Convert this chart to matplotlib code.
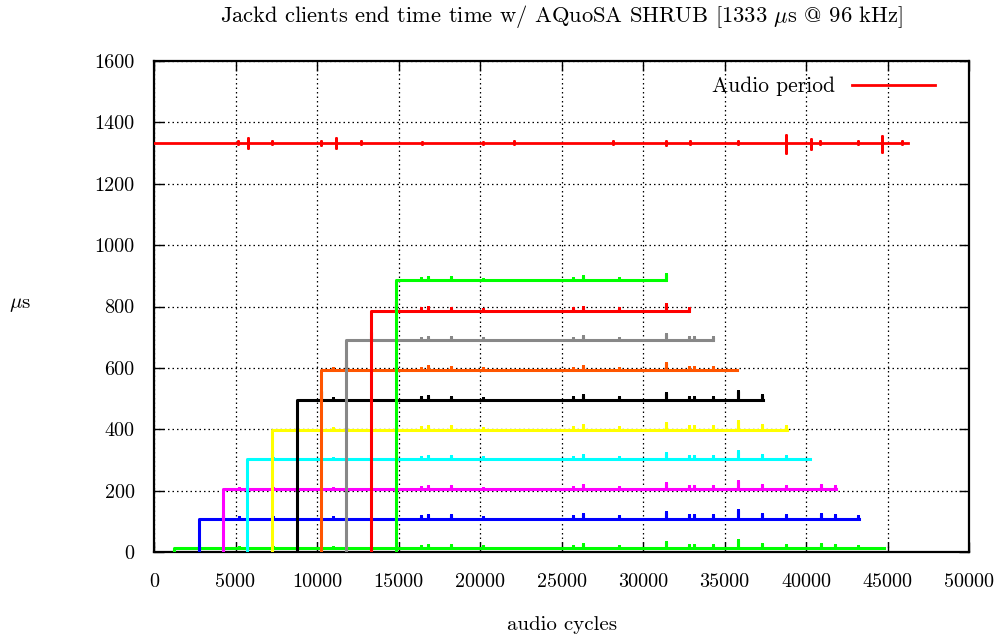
import matplotlib
matplotlib.use("Agg")
import matplotlib.pyplot as plt
import numpy as np

plt.rcParams['font.family'] = ['cmr10', 'DejaVu Serif']
plt.rcParams['mathtext.fontset'] = 'cm'
plt.rcParams['axes.formatter.use_mathtext'] = True

# ---------------- data ----------------
# client series: start cycle, steady end time (us), last cycle
client_start = [1200, 2740, 4210, 5730, 7240, 8750, 10250, 11760, 13290, 14850]
client_level = [12, 109, 204, 302, 399, 496, 593, 690, 786, 885]
client_end = [44800, 43270, 41820, 40250, 38810, 37340, 35770, 34310, 32840, 31410]
client_colors = ['#00ff00', '#0000ff', '#ff00ff', '#00ffff', '#ffff00',
                 '#000000', '#ff5500', '#888888', '#ff0000', '#00ff00']
# spike of each client when the next client starts (us)
client_next_peak = [25, 120, 215, 332, 430, 525, 625, 717, 818, 908]

# shared small jitter spikes (cycle, height above level in us)
jit_x = [5200, 7300, 11000, 16400, 16800, 18200, 20200, 25700, 26300, 28500,
         31400, 32800, 33100, 34300, 35800, 37300, 38800, 40900, 41800, 43200]
jit_h = [5, 4, 5, 8, 12, 10, 6, 8, 14, 8, 22, 10, 10, 10, 28, 14, 10, 14, 10, 8]

# audio period series
audio_level = 1333
audio_end = 46250
audio_spk_x = [5150, 5750, 7220, 10250, 11170, 12680, 16420, 20170, 22090, 28140,
               31410, 32880, 35830, 38800, 40300, 40860, 43190, 44650, 45870]
audio_spk_lo = [1328, 1318, 1328, 1327, 1318, 1328, 1329, 1329, 1328, 1328,
                1327, 1328, 1328, 1300, 1312, 1328, 1328, 1305, 1328]
audio_spk_hi = [1338, 1348, 1338, 1339, 1348, 1338, 1337, 1337, 1338, 1338,
                1340, 1338, 1338, 1360, 1345, 1338, 1338, 1355, 1338]

xticks = [0, 5000, 10000, 15000, 20000, 25000, 30000, 35000, 40000, 45000, 50000]
yticks = [0, 200, 400, 600, 800, 1000, 1200, 1400, 1600]

# ---------------- figure ----------------
fig = plt.figure(figsize=(10.07, 6.41), dpi=100)
ax = fig.add_axes([154/1007, 1-552/641, (969-154)/1007, (552-61)/641])

# audio period
ax_x = [0]
ax_y = [audio_level]
for sx, lo, hi in zip(audio_spk_x, audio_spk_lo, audio_spk_hi):
    ax_x += [sx, sx, sx, sx]
    ax_y += [audio_level, hi, lo, audio_level]
ax_x.append(audio_end)
ax_y.append(audio_level)
ax.plot(ax_x, ax_y, color='#ff0000', lw=2.0, label='Audio period', zorder=3)

# clients
n = len(client_start)
for i in range(n):
    s, lev, e = client_start[i], client_level[i], client_end[i]
    events = []
    for jx, jh in zip(jit_x, jit_h):
        if s + 200 < jx < e:
            events.append((jx, lev + jh))
    if i + 1 < n:
        events.append((client_start[i + 1], client_next_peak[i]))
    events.sort()
    xs = [s, s]
    ys = [0, lev]
    for ex, ey in events:
        xs += [ex, ex, ex]
        ys += [lev, ey, lev]
    xs.append(e)
    ys.append(lev)
    ax.plot(xs, ys, color=client_colors[i], lw=2.2, zorder=3)

ax.set_xlim(0, 50000)
ax.set_ylim(0, 1600)
ax.set_xticks(xticks)
ax.set_yticks(yticks)
ax.set_xticklabels([str(t) for t in xticks])
ax.set_yticklabels([str(t) for t in yticks])
ax.tick_params(direction='in', length=7, width=1.0, top=True, right=True,
               labelsize=14.5, pad=14, colors='black')
ax.tick_params(axis='x', pad=15)
ax.grid(True, color='black', linestyle=(0, (1.2, 2.4)), lw=0.9, zorder=1)
for sp in ax.spines.values():
    sp.set_linewidth(1.6)

fig.text((154+969)/2/1007, 1-17/641, r'Jackd clients end time time w/ AQuoSA SHRUB [1333 $\mu$s @ 96 kHz]',
         ha='center', va='center', fontsize=16.2)
fig.text(562/1007, 1-625/641, 'audio cycles', ha='center', va='center', fontsize=15)
fig.text(20/1007, 1-305/641, r'$\mu$s', ha='center', va='center', fontsize=15)

leg = ax.legend(loc='upper right', frameon=False, markerfirst=False,
                handlelength=3.85, fontsize=15.5, bbox_to_anchor=(0.958, 0.968),
                borderaxespad=0, borderpad=0, handletextpad=0.8)

fig.savefig('out.png', dpi=100)
